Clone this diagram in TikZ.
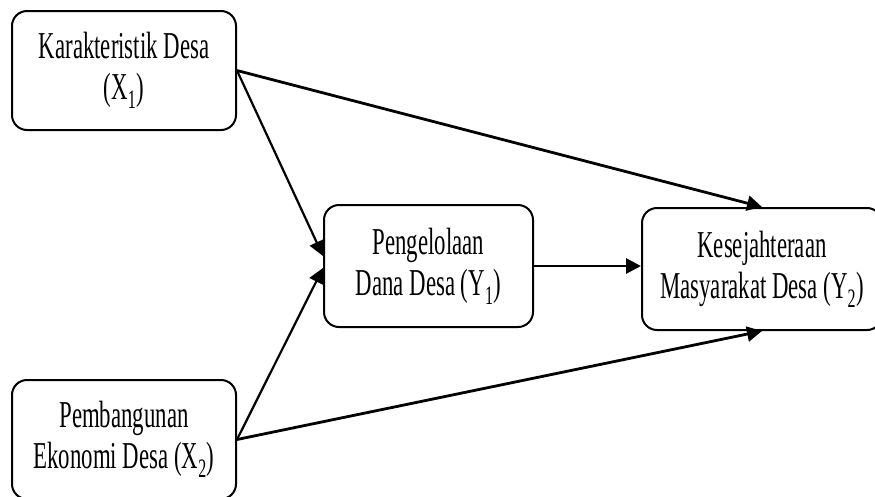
\documentclass[tikz,border=0pt]{standalone}
\usepackage{fontspec}
\setmainfont{Liberation Serif}[FakeStretch=0.6]
\usetikzlibrary{arrows.meta}

\begin{document}
\begin{tikzpicture}[x=1pt,y=-1pt,
  box_node/.style={draw,rounded corners=15pt,line width=2pt,align=center,inner sep=0pt,minimum width=224pt,minimum height=119pt,font=\fontsize{38}{41}\selectfont},
  arrow_line/.style={line width=2.8pt,-{Triangle[length=15pt,width=15pt]}}]

    \useasboundingbox (0,0) rectangle (875,496);

	\node[box_node] (x1)   at (124,70.5) {Karakteristik Desa\\(X\textsubscript{1})};
    \node[box_node] (x2)   at (124,439.5) {Pembangunan\\Ekonomi Desa (X\textsubscript{2})};
	\node[box_node, minimum width=209pt, minimum height=122pt] (y1)   at (428.5,266) {Pengelolaan\\Dana Desa (Y\textsubscript{1})};
    \node[box_node, minimum width=240pt, minimum height=122pt] (y2)   at (762,269) {Kesejahteraan\\Masyarakat Desa (Y\textsubscript{2})};

    \draw[arrow_line] (x1.east) -- (y2.north);
    \draw[arrow_line, line width=2.2pt] (x1.east) -- ([yshift=10pt]y1.west);
    \draw[arrow_line, line width=2.2pt] (x2.east) -- ([yshift=-2pt]y1.west);
    \draw[arrow_line] (x2.east) -- (y2.south);
    \draw[arrow_line] (y1.east) -- (y1.east -| y2.west);

\end{tikzpicture}
\end{document}
